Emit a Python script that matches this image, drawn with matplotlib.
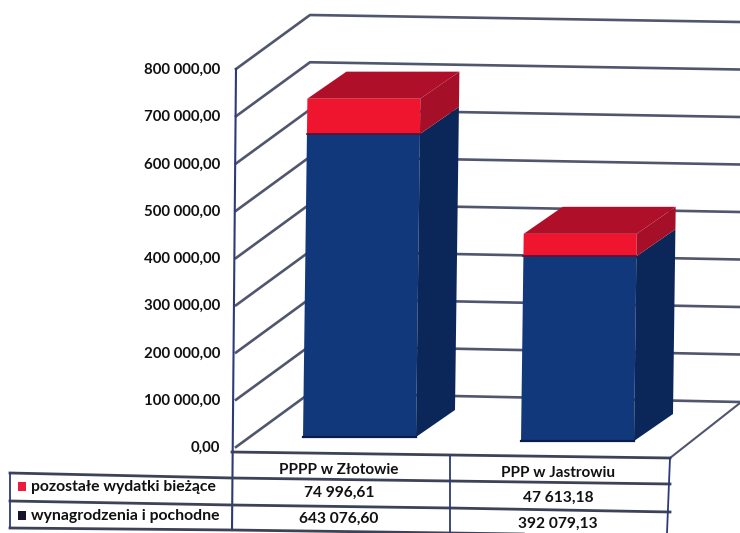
import matplotlib
matplotlib.use('Agg')
import matplotlib.pyplot as plt
from matplotlib.patches import Polygon, Rectangle

places = ['PPPP w Złotowie', 'PPP w Jastrowiu']
series_names = ['pozostałe wydatki bieżące', 'wynagrodzenia i pochodne']
other_costs = [74996.61, 47613.18]
salaries = [643076.60, 392079.13]
other_labels = ['74 996,61', '47 613,18']
salary_labels = ['643 076,60', '392 079,13']
ticks = [0, 100000, 200000, 300000, 400000, 500000, 600000, 700000, 800000]
tick_labels = ['0,00', '100 000,00', '200 000,00', '300 000,00', '400 000,00',
               '500 000,00', '600 000,00', '700 000,00', '800 000,00']

plt.rcParams['font.family'] = ['Lato', 'DejaVu Sans']
plt.rcParams['font.weight'] = 'bold'

fig = plt.figure(figsize=(7.4, 5.33), dpi=100)
ax = fig.add_axes([0, 0, 1, 1])
ax.set_xlim(0, 740)
ax.set_ylim(533, 0)
ax.axis('off')

line_col = '#50566e'
blue, blue_side = '#12387c', '#0b2759'
red, red_side, red_top = '#f0152f', '#a60f28', '#b00f29'

# axis scale of the fake 3d chart
scale = 0.4725 / 1000
front_zero = 447
back_zero = 393
right_zero = 402


# gridlines: front left edge -> back wall -> off to the right
for v, lab in zip(ticks, tick_labels):
    d = v * scale
    ax.plot([236, 310, 740], [front_zero - d, back_zero - d, right_zero - v * 0.475 / 1000],
            color=line_col, lw=1.9, zorder=1)
    ax.text(220, front_zero - d + 1, lab, ha='right', va='center', fontsize=10.8, color='#111111')

# floor right edge and axis
ax.plot([670, 740], [458, 403], color=line_col, lw=1.5, zorder=1)
ax.plot([236, 232], [69, 530], color='#2d3a78', lw=1.5, zorder=2)


def draw_bar(x_left, base, value_low, value_high, width=113, dx=39, dy=-27):
    lean = 0.013
    s = 0.4712 / 1000

    def X(x, y):
        return x + (base - y) * lean

    def box(y0, y1, front, side):
        ax.add_patch(Polygon([(X(x_left, y0), y0), (X(x_left + width, y0), y0),
                              (X(x_left + width, y1), y1), (X(x_left, y1), y1)],
                             color=front, lw=0, zorder=3))
        ax.add_patch(Polygon([(X(x_left + width, y0), y0), (X(x_left + width, y0) + dx, y0 + dy),
                              (X(x_left + width, y1) + dx, y1 + dy), (X(x_left + width, y1), y1)],
                             color=side, lw=0, zorder=3))

    y_mid = base - value_low * s
    y_top = base - (value_low + value_high) * s
    box(base, y_mid, blue, blue_side)
    box(y_mid, y_top, red, red_side)
    ax.add_patch(Polygon([(X(x_left, y_top), y_top), (X(x_left + width, y_top), y_top),
                          (X(x_left + width, y_top) + dx, y_top + dy), (X(x_left, y_top) + dx, y_top + dy)],
                         color=red_top, lw=0, zorder=3))
    ax.plot([X(x_left, base), X(x_left + width, base)], [base, base], color='#0a1c4a', lw=1.6, zorder=4)
    ax.plot([X(x_left, y_mid), X(x_left + width, y_mid)], [y_mid, y_mid], color='#5a1030', lw=1.2, zorder=4)


draw_bar(303, 437, salaries[0], other_costs[0])
draw_bar(521, 441, salaries[1], other_costs[1])

# data table
tbl = '#3c4258'
ax.plot([232, 670], [452, 458], color=tbl, lw=2, zorder=2)
ax.plot([10, 232, 450, 670], [473, 478, 481, 484], color=tbl, lw=2, zorder=2)
ax.plot([10, 232, 450, 670], [501, 505, 508, 512], color=tbl, lw=2, zorder=2)
ax.plot([10, 232, 450, 670], [528, 530, 533, 536], color=tbl, lw=2, zorder=2)
ax.plot([10, 10], [473, 528], color='#2d3a78', lw=1.3, zorder=2)
ax.plot([450, 450], [455, 533], color='#2d3a78', lw=1.3, zorder=2)
ax.plot([670, 667], [458, 533], color='#2d3a78', lw=1.3, zorder=2)

fs = 11.2
ax.text(339, 470, places[0], ha='center', va='center', fontsize=11, color='#111111')
ax.text(558, 473, places[1], ha='center', va='center', fontsize=11, color='#111111')
ax.text(339, 493, other_labels[0], ha='center', va='center', fontsize=fs, color='#111111')
ax.text(558, 498, other_labels[1], ha='center', va='center', fontsize=fs, color='#111111')
ax.text(339, 519, salary_labels[0], ha='center', va='center', fontsize=fs, color='#111111')
ax.text(558, 524, salary_labels[1], ha='center', va='center', fontsize=fs, color='#111111')

ax.add_patch(Rectangle((18, 482), 8, 9, color='#ee1c3c', lw=0, zorder=3))
ax.add_patch(Rectangle((18, 511), 8, 9, color='#14142a', lw=0, zorder=3))
ax.text(31, 487, series_names[0], ha='left', va='center', fontsize=11.3, color='#111111')
ax.text(31, 516, series_names[1], ha='left', va='center', fontsize=11.3, color='#111111')

fig.savefig('out.png', dpi=100)
